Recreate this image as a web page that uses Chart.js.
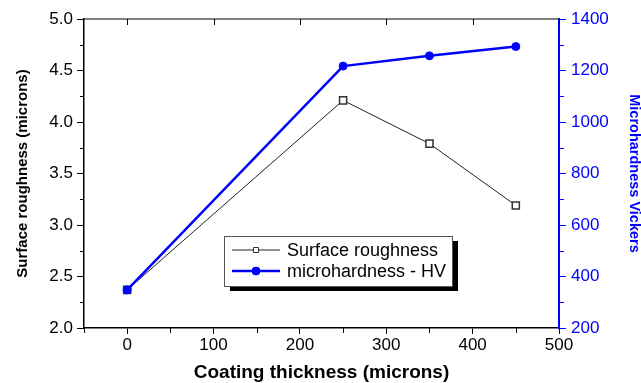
<!DOCTYPE html>
<html>
<head>
<meta charset="utf-8">
<script src="https://cdn.jsdelivr.net/npm/chart.js@4.4.1/dist/chart.umd.min.js"></script>
<style>
  html, body { margin: 0; padding: 0; background: #fff; }
  #wrap { width: 641px; height: 383px; }
</style>
</head>
<body>
<div id="wrap"><canvas id="myChart" width="641" height="383"></canvas></div>
<script>
const thickness = [0, 250, 350, 450];
const roughness = [2.37, 4.21, 3.79, 3.19];
const hardness = [348, 1217, 1257, 1293];

const xTicks = [0, 100, 200, 300, 400, 500];
const xMinor = [-50, 50, 150, 250, 350, 450];
const leftMinor = [2.25, 2.75, 3.25, 3.75, 4.25, 4.75];
const rightMinor = [300, 500, 700, 900, 1100, 1300];

const FONT = "'Liberation Sans', Arial, sans-serif";
const BLUE = "rgb(0, 0, 255)";

// frame top line, inward top ticks, minor ticks and the boxed legend
const extras = {
  id: "extras",
  afterDraw(chart) {
    const ctx = chart.ctx;
    const area = chart.chartArea;
    const sx = chart.scales.x;
    const sl = chart.scales.y;
    const sr = chart.scales.y1;
    ctx.save();
    ctx.lineWidth = 1;
    ctx.strokeStyle = "#000";
    ctx.beginPath();
    ctx.moveTo(area.left, area.top);
    ctx.lineTo(area.right, area.top);
    xTicks.forEach((v) => {
      const x = Math.round(sx.getPixelForValue(v)) + 0.5;
      ctx.moveTo(x, area.top);
      ctx.lineTo(x, area.top + 6);
    });
    xMinor.forEach((v) => {
      const x = Math.round(sx.getPixelForValue(v)) + 0.5;
      ctx.moveTo(x, area.bottom);
      ctx.lineTo(x, area.bottom + 5);
    });
    leftMinor.forEach((v) => {
      const y = Math.round(sl.getPixelForValue(v)) + 0.5;
      ctx.moveTo(area.left, y);
      ctx.lineTo(area.left - 4, y);
    });
    ctx.stroke();
    ctx.strokeStyle = BLUE;
    ctx.beginPath();
    rightMinor.forEach((v) => {
      const y = Math.round(sr.getPixelForValue(v)) + 0.5;
      ctx.moveTo(area.right, y);
      ctx.lineTo(area.right + 5, y);
    });
    ctx.stroke();

    // legend box with shadow
    const bx = 224, by = 236, bw = 228, bh = 50;
    ctx.fillStyle = "#000";
    ctx.fillRect(bx + 6, by + 5, bw, bh);
    ctx.fillStyle = "#fff";
    ctx.fillRect(bx, by, bw, bh);
    ctx.strokeStyle = "#555";
    ctx.lineWidth = 1;
    ctx.strokeRect(bx + 0.5, by + 0.5, bw, bh);

    const rows = [
      { ds: chart.data.datasets[0], y: 250 },
      { ds: chart.data.datasets[1], y: 271 },
    ];
    rows.forEach((r) => {
      ctx.strokeStyle = r.ds.borderColor;
      ctx.lineWidth = r.ds.borderWidth;
      ctx.beginPath();
      ctx.moveTo(232, r.y);
      ctx.lineTo(280, r.y);
      ctx.stroke();
      ctx.fillStyle = r.ds.pointBackgroundColor;
      ctx.strokeStyle = r.ds.pointBorderColor;
      ctx.lineWidth = 1;
      ctx.beginPath();
      if (r.ds.pointStyle === "rect") {
        ctx.rect(253.5, r.y - 2.5, 5, 5);
      } else {
        ctx.arc(256, r.y, 4, 0, Math.PI * 2);
      }
      ctx.fill();
      ctx.stroke();
      ctx.fillStyle = "#000";
      ctx.font = "18px " + FONT;
      ctx.textBaseline = "middle";
      ctx.textAlign = "left";
      ctx.fillText(r.ds.label, 287, r.y + 1);
    });
    ctx.restore();
  },
};

const ctx = document.getElementById("myChart").getContext("2d");

const data = {
  datasets: [
    {
      label: "Surface roughness",
      data: thickness.map((t, i) => ({ x: t, y: roughness[i] })),
      yAxisID: "y",
      borderColor: "#222",
      borderWidth: 1,
      pointStyle: "rect",
      pointRadius: 5,
      pointBorderWidth: 1.5,
      pointBackgroundColor: "#fff",
      pointBorderColor: "#333",
      order: 1,
    },
    {
      label: "microhardness - HV",
      data: thickness.map((t, i) => ({ x: t, y: hardness[i] })),
      yAxisID: "y1",
      borderColor: BLUE,
      borderWidth: 2.5,
      pointStyle: "circle",
      pointRadius: 4,
      pointBorderWidth: 1,
      pointBackgroundColor: BLUE,
      pointBorderColor: BLUE,
      order: 0,
    },
  ],
};

const config = {
  type: "line",
  data: data,
  plugins: [extras],
  options: {
    responsive: false,
    animation: false,
    layout: { padding: { top: 19, left: 0, right: 0, bottom: 0 } },
    plugins: {
      legend: { display: false },
      tooltip: { enabled: false },
    },
    scales: {
      x: {
        type: "linear",
        position: "bottom",
        min: -50,
        max: 500,
        afterBuildTicks: (scale) => {
          scale.ticks = xTicks.map((v) => ({ value: v }));
        },
        afterFit: (scale) => {
          scale.height = 55;
        },
        border: { color: "#000", width: 1.5 },
        grid: { drawOnChartArea: false, color: "#000", tickLength: 6 },
        ticks: {
          color: "#000",
          padding: 1,
          maxRotation: 0,
          font: { family: FONT, size: 17 },
          callback: (v) => String(v),
        },
        title: {
          display: true,
          text: "Coating thickness (microns)",
          color: "#000",
          padding: { top: 0, bottom: 0 },
          font: { family: FONT, size: 19, weight: "bold", lineHeight: 1.1 },
        },
      },
      y: {
        position: "left",
        min: 2,
        max: 5,
        afterFit: (scale) => {
          scale.width = 84;
        },
        border: { color: "#000", width: 1.5 },
        grid: { drawOnChartArea: false, color: "#000", tickLength: 7 },
        ticks: {
          stepSize: 0.5,
          color: "#000",
          padding: 4,
          font: { family: FONT, size: 17 },
          callback: (v) => v.toFixed(1),
        },
        title: {
          display: true,
          text: "Surface roughness (microns)",
          color: "#000",
          padding: { top: 14, bottom: 0 },
          font: { family: FONT, size: 15, weight: "bold", lineHeight: 1.2 },
        },
      },
      y1: {
        position: "right",
        min: 200,
        max: 1400,
        afterFit: (scale) => {
          scale.width = 82;
        },
        border: { color: BLUE, width: 2 },
        grid: { drawOnChartArea: false, color: BLUE, tickLength: 7 },
        ticks: {
          stepSize: 200,
          color: BLUE,
          padding: 5,
          font: { family: FONT, size: 17 },
          callback: (v) => String(v),
        },
        title: {
          display: true,
          text: "Microhardness Vickers",
          color: BLUE,
          padding: { top: 0, bottom: 0 },
          font: { family: FONT, size: 14.5, weight: "bold", lineHeight: 1 },
        },
      },
    },
  },
};

const myChart = new Chart(ctx, config);
</script>
</body>
</html>
